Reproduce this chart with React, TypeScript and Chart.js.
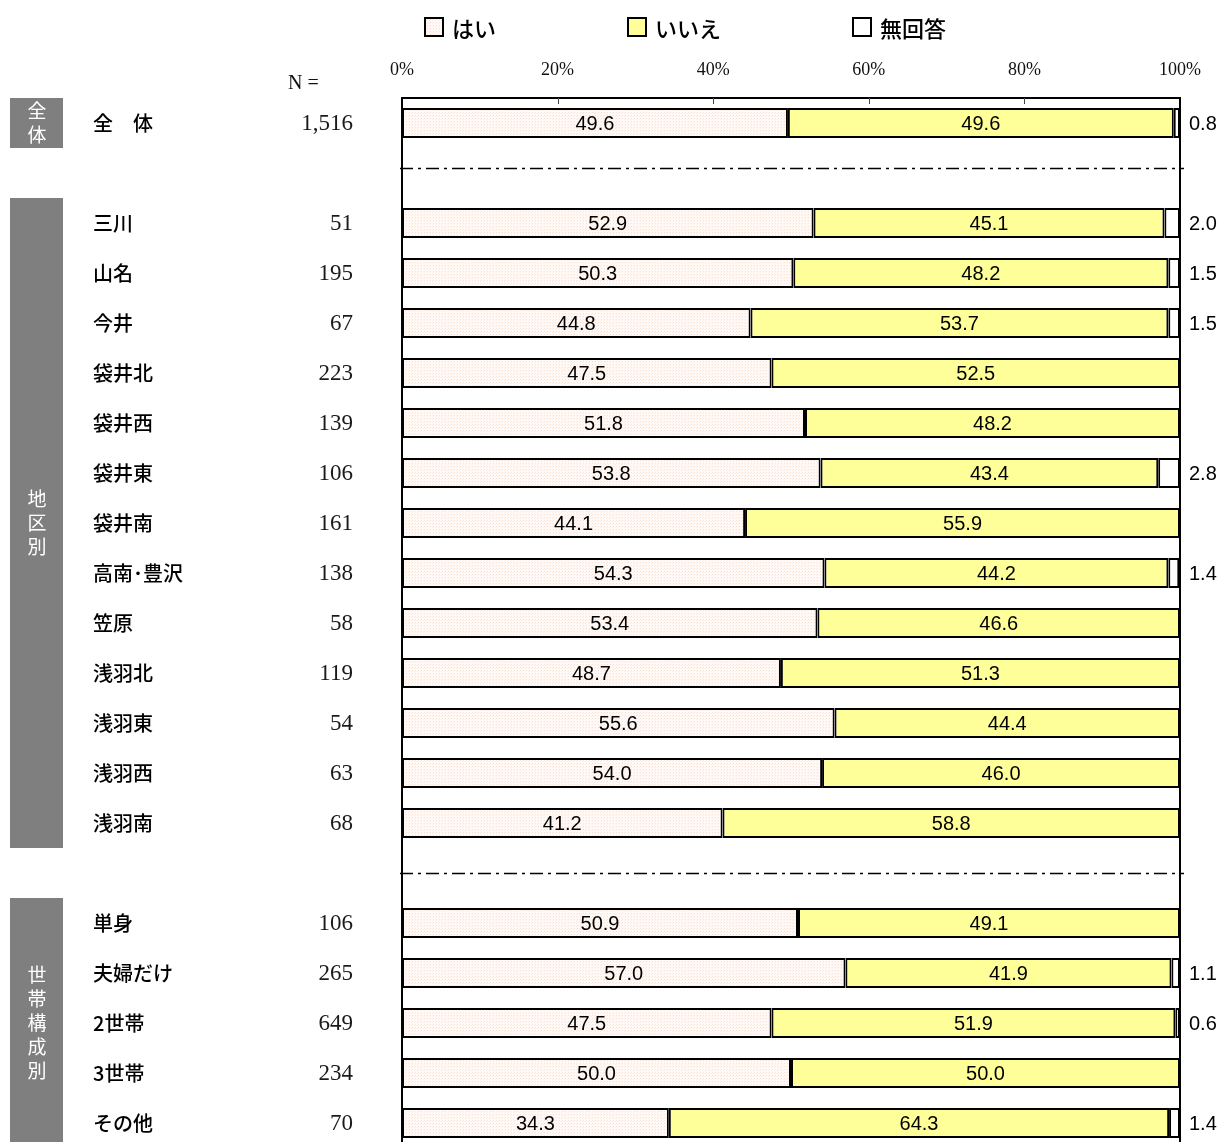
import React, { useEffect, useRef } from "react";
import { Chart, registerables } from "chart.js";

Chart.register(...registerables);

const categories = [
  "全　体", "",
  "三川", "山名", "今井", "袋井北", "袋井西", "袋井東", "袋井南", "高南･豊沢", "笠原", "浅羽北", "浅羽東", "浅羽西", "浅羽南",
  "",
  "単身", "夫婦だけ", "2世帯", "3世帯", "その他",
];
const nValues = [
  "1,516", "",
  "51", "195", "67", "223", "139", "106", "161", "138", "58", "119", "54", "63", "68",
  "",
  "106", "265", "649", "234", "70",
];
const yesValues = [
  49.6, null,
  52.9, 50.3, 44.8, 47.5, 51.8, 53.8, 44.1, 54.3, 53.4, 48.7, 55.6, 54.0, 41.2,
  null,
  50.9, 57.0, 47.5, 50.0, 34.3,
];
const noValues = [
  49.6, null,
  45.1, 48.2, 53.7, 52.5, 48.2, 43.4, 55.9, 44.2, 46.6, 51.3, 44.4, 46.0, 58.8,
  null,
  49.1, 41.9, 51.9, 50.0, 64.3,
];
const naValues = [
  0.8, null,
  2.0, 1.5, 1.5, 0, 0, 2.8, 0, 1.4, 0, 0, 0, 0, 0,
  null,
  0, 1.1, 0.6, 0, 1.4,
];
const seriesLabels = ["はい", "いいえ", "無回答"];
const tickValues = [0, 20, 40, 60, 80, 100];
const tickLabels = ["0%", "20%", "40%", "60%", "80%", "100%"];
const groupLabels = [["全", "体"], ["地", "区", "別"], ["世", "帯", "構", "成", "別"]];
const groupStart = [0, 2, 16];
const groupEnd = [0, 14, 20];
const separatorRows = [1, 15];

const W = 1221;
const H = 1180;
const SANS = '"Liberation Sans", Arial, sans-serif';
const JP = '"Noto Sans CJK JP", "Noto Sans", sans-serif';
const SERIF = '"Liberation Serif", "Times New Roman", serif';

function makePattern(): CanvasPattern | string {
  const c = document.createElement("canvas");
  c.width = 3;
  c.height = 3;
  const g = c.getContext("2d");
  if (!g) return "#fdf3ec";
  g.fillStyle = "#fffaf7";
  g.fillRect(0, 0, 3, 3);
  g.fillStyle = "#f9e0cf";
  g.fillRect(1, 1, 1, 1);
  g.fillStyle = "#fcece1";
  g.fillRect(0, 2, 1, 1);
  const p = g.createPattern(c, "repeat");
  return p || "#fdf3ec";
}

export default function App() {
  const ref = useRef<HTMLCanvasElement | null>(null);

  useEffect(() => {
    const canvas = ref.current;
    if (!canvas) return;
    const yesFill = makePattern();
    const fills: any[] = [yesFill, "#ffff99", "#ffffff"];

    const overlay = {
      id: "overlay",
      beforeDatasetsDraw(chart: any) {
        const ctx = chart.ctx;
        const y = chart.scales.y;
        const area = chart.chartArea;
        ctx.save();
        ctx.strokeStyle = "#000";
        ctx.lineWidth = 1.5;
        ctx.setLineDash([13, 5, 3, 5]);
        separatorRows.forEach((r) => {
          const py = Math.round(y.getPixelForValue(r)) - (r === 1 ? 5 : 0) + 0.5;
          ctx.beginPath();
          ctx.moveTo(area.left - 2, py);
          ctx.lineTo(area.right + 4, py);
          ctx.stroke();
        });
        ctx.setLineDash([]);
        ctx.restore();
      },
      afterDatasetsDraw(chart: any) {
        const ctx = chart.ctx;
        const x = chart.scales.x;
        const y = chart.scales.y;
        const area = chart.chartArea;
        const band = y.getPixelForValue(1) - y.getPixelForValue(0);
        ctx.save();

        // frame
        ctx.strokeStyle = "#000";
        ctx.lineWidth = 2;
        ctx.beginPath();
        ctx.moveTo(area.left, area.bottom + 40);
        ctx.lineTo(area.left, area.top);
        ctx.lineTo(area.right, area.top);
        ctx.lineTo(area.right, area.bottom + 40);
        ctx.stroke();

        // inner ticks
        ctx.lineWidth = 1;
        ctx.strokeStyle = "#444";
        tickValues.forEach((v) => {
          if (v === 0 || v === 100) return;
          const px = Math.round(x.getPixelForValue(v)) + 0.5;
          ctx.beginPath();
          ctx.moveTo(px, area.top);
          ctx.lineTo(px, area.top + 6);
          ctx.stroke();
        });

        // tick labels
        ctx.fillStyle = "#111";
        ctx.font = `18px ${SERIF}`;
        ctx.textAlign = "center";
        ctx.textBaseline = "middle";
        tickValues.forEach((v, i) => {
          ctx.fillText(tickLabels[i], x.getPixelForValue(v), 70);
        });

        // N =
        ctx.font = `20px ${SERIF}`;
        ctx.textAlign = "left";
        ctx.fillText("N =", 288, 84);

        // value labels inside bars
        ctx.fillStyle = "#000";
        ctx.font = `20px ${SANS}`;
        ctx.textAlign = "center";
        [0, 1].forEach((di) => {
          const meta = chart.getDatasetMeta(di);
          const vals = di === 0 ? yesValues : noValues;
          meta.data.forEach((bar: any, j: number) => {
            const v = vals[j];
            if (v === null || v === undefined) return;
            const cx = (bar.x + bar.base) / 2;
            ctx.fillText(v.toFixed(1), cx, bar.y + 1);
          });
        });
        // right labels
        ctx.textAlign = "left";
        const metaNa = chart.getDatasetMeta(2);
        metaNa.data.forEach((bar: any, j: number) => {
          const v = naValues[j];
          if (!v) return;
          ctx.fillText(v.toFixed(1), area.right + 9, bar.y + 1);
        });

        // category labels and N
        categories.forEach((c, j) => {
          if (!c) return;
          const py = y.getPixelForValue(j);
          ctx.fillStyle = "#000";
          ctx.font = `500 20px ${JP}`;
          ctx.textAlign = "left";
          ctx.fillText(c, 93, py);
          ctx.font = `23px ${SERIF}`;
          ctx.fillStyle = "#1a1a1a";
          ctx.textAlign = "right";
          ctx.fillText(nValues[j], 353, py + 1);
        });

        // group boxes
        groupLabels.forEach((chars, gi) => {
          const top = y.getPixelForValue(groupStart[gi]) - band / 2;
          const bottom = y.getPixelForValue(groupEnd[gi]) + band / 2;
          ctx.fillStyle = "#7f7f7f";
          ctx.fillRect(10, top, 53, bottom - top);
          ctx.fillStyle = "#fff";
          ctx.font = `19px ${JP}`;
          ctx.textAlign = "center";
          const mid = (top + bottom) / 2;
          const lh = 24;
          chars.forEach((ch, k) => {
            ctx.fillText(ch, 37, mid + (k - (chars.length - 1) / 2) * lh);
          });
        });

        // legend
        const legendX = [425, 628, 853];
        seriesLabels.forEach((lab, i) => {
          const bx = legendX[i];
          ctx.fillStyle = fills[i];
          ctx.fillRect(bx, 18, 18, 18);
          ctx.strokeStyle = "#000";
          ctx.lineWidth = 2;
          ctx.strokeRect(bx, 18, 18, 18);
          ctx.fillStyle = "#000";
          ctx.font = `500 22px ${JP}`;
          ctx.textAlign = "left";
          ctx.textBaseline = "middle";
          ctx.fillText(lab, bx + 27, 29);
        });

        ctx.restore();
      },
    };

    const mk = (i: number, data: (number | null)[]) => ({
      label: seriesLabels[i],
      data,
      backgroundColor: fills[i],
      borderColor: "#000",
      borderWidth: 2,
      borderSkipped: false,
      barPercentage: 0.6,
      categoryPercentage: 1,
    });

    const chart = new Chart(canvas, {
      type: "bar",
      data: {
        labels: categories,
        datasets: [mk(0, yesValues), mk(1, noValues), mk(2, naValues)],
      },
      options: {
        indexAxis: "y",
        responsive: false,
        animation: false,
        devicePixelRatio: 1,
        layout: { padding: { left: 402, right: W - 1180, top: 98, bottom: H - 98 - 21 * 50 } },
        plugins: { legend: { display: false }, tooltip: { enabled: false } },
        scales: {
          x: { stacked: true, min: 0, max: 100, display: false },
          y: { stacked: true, display: false },
        },
      } as any,
      plugins: [overlay],
    });
    return () => chart.destroy();
  }, []);

  return (
    <div style={{ position: "fixed", left: 0, top: 0, width: W, height: 1142, overflow: "hidden", background: "#fff" }}>
      <canvas ref={ref} width={W} height={H} style={{ width: W, height: H, display: "block" }} />
    </div>
  );
}
